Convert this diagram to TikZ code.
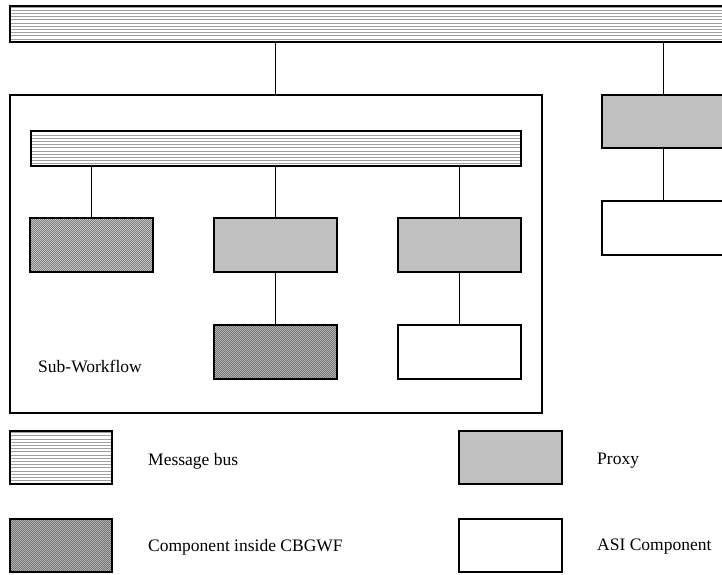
\documentclass[tikz,border=0pt]{standalone}
\usepackage{fontspec}
\setmainfont{Liberation Serif}
\usepackage{tikz}
\usetikzlibrary{
  calc,
  patterns
}
\definecolor{proxygray}{RGB}{192,192,192}
\pgfdeclarepatternformonly{bus lines}{\pgfqpoint{-1pt}{-1pt}}{\pgfqpoint{100pt}{2pt}}{\pgfqpoint{100pt}{3.2pt}}
{
  \pgfsetlinewidth{1pt}
  \pgfpathmoveto{\pgfqpoint{0pt}{0.5pt}}
  \pgfpathlineto{\pgfqpoint{100.1pt}{0.5pt}}
  \pgfusepath{stroke}
}
\pgfdeclarepatternformonly{comp hatch}{\pgfqpoint{-1pt}{-1pt}}{\pgfqpoint{3pt}{3pt}}{\pgfqpoint{2pt}{2pt}}
{
  \pgfsetlinewidth{0.7pt}
  \pgfpathmoveto{\pgfqpoint{-0.1pt}{-0.1pt}}
  \pgfpathlineto{\pgfqpoint{2.1pt}{2.1pt}}
  \pgfusepath{stroke}
}
\tikzset{
  box/.style={
    draw,
    line width=1.3pt,
    inner sep=0pt,
    minimum width=123pt,
    minimum height=54pt},
  msgbus/.style={
    box,
    minimum height=36pt,
    preaction={fill=white},
    pattern=bus lines,
    pattern color=gray!75},
  comp/.style={
    box,
    preaction={fill=gray!20},
    pattern=comp hatch,
    pattern color=black!60},
  proxy/.style={
    box,
    fill=proxygray},
  asi/.style={
    box,
    fill=white},
  link/.style={
    line width=1pt},
  txt/.style={
    anchor=west,
    inner sep=0pt,
    font=\fontsize{17.5}{20}\selectfont}
  }
\begin{document}
\begin{tikzpicture}[x=1pt,y=-1pt]
      \useasboundingbox (0,0) rectangle (722,574);
      \clip (0,0) rectangle (722,574);
      % workflow part
      \node [msgbus, minimum width=740pt] (bus) at (380,24) {};
      \node [draw, line width=1.1pt, inner sep=0pt, minimum width=532pt, minimum height=318pt] (subwf) at (276,254) {};
      \node [msgbus, minimum width=490pt, minimum height=35pt] (ibus) at (276,148.5) {};
      \node [comp] (c1) at (91.5,245) {};
      \node [proxy] (p1) at (275.5,245) {};
      \node [proxy] (p2) at (459.5,245) {};
      \node [comp] (c2) at (275.5,352) {};
      \node [asi] (a1) at (459.5,352) {};
      \node [txt] (swlabel) at (38,366) {Sub-Workflow};
      \node [proxy, minimum height=53pt] (p3) at (663.5,121.5) {};
      \node [asi] (a2) at (663.5,228) {};
      \draw [link] (bus.south -| p1) to (subwf.north -| p1);
      \draw [link] (bus.south -| p3) to (p3.north);
      \draw [link] (ibus.south -| c1) to (c1.north);
      \draw [link] (ibus.south -| p1) to (p1.north);
      \draw [link] (ibus.south -| p2) to (p2.north);
      \draw [link] (p1) to (c2);
      \draw [link] (p2) to (a1);
      \draw [link] (p3) to (a2);
      % legend
      \node [msgbus, minimum width=102pt, minimum height=53pt] (lbus) at (61,457.5) {};
      \node [comp, minimum width=102pt, minimum height=53pt] (lcomp) at (61,545.5) {};
      \node [proxy, minimum width=103pt, minimum height=53pt] (lproxy) at (510.5,457.5) {};
      \node [asi, minimum width=103pt, minimum height=53pt] (lasi) at (510.5,545.5) {};
      \node [txt] (tbus) at (148,461) {Message bus};
      \node [txt] (tcomp) at (148,547) {Component inside CBGWF};
      \node [txt] (tproxy) at (597,461) {Proxy};
      \node [txt] (tasi) at (597,547) {ASI Component};
    \end{tikzpicture}
\end{document}
